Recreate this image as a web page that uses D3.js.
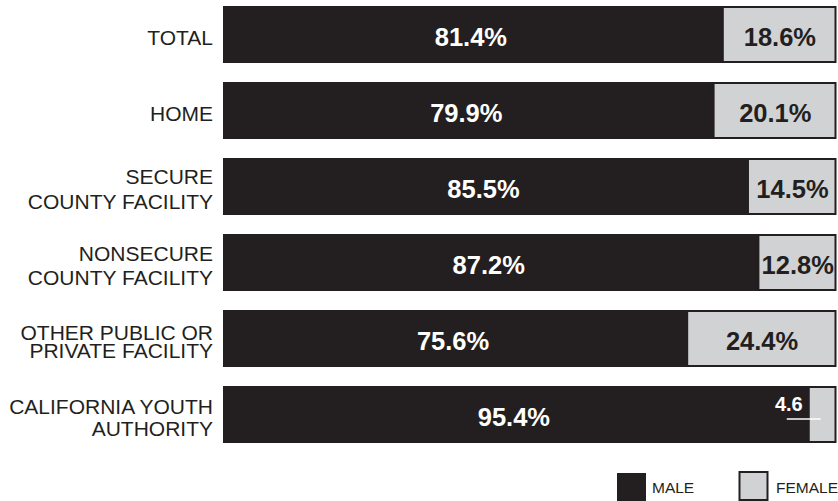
<!DOCTYPE html>
<html><head><meta charset="utf-8">
<script src="https://cdn.jsdelivr.net/npm/d3@7"></script>
<style>body{margin:0;background:#fff}svg{display:block}text{font-family:"Liberation Sans",Arial,sans-serif}</style>
</head><body><svg id="c" width="838" height="501"></svg>
<script>
const categories = [["TOTAL"],["HOME"],["SECURE","COUNTY FACILITY"],["NONSECURE","COUNTY FACILITY"],["OTHER PUBLIC OR","PRIVATE FACILITY"],["CALIFORNIA YOUTH","AUTHORITY"]];
const male = [81.4, 79.9, 85.5, 87.2, 75.6, 95.4];
const female = [18.6, 20.1, 14.5, 12.8, 24.4, 4.6];
const femaleLabels = ["18.6%","20.1%","14.5%","12.8%","24.4%","4.6"];
const legendLabels = ["MALE","FEMALE"];

const svg = d3.select("#c");
const dark = "#231f20", light = "#d1d2d4";
const lineHeights = [0, 0, 25, 24, 18, 22];
const x = d3.scaleLinear().domain([0,100]).range([223,837]);
const y = d3.scaleBand().domain(d3.range(categories.length)).range([6,443]).paddingInner(0.25).paddingOuter(0);

const g = svg.selectAll("g.row").data(categories).join("g").attr("class","row");
g.append("rect").attr("x",x(0)).attr("y",(d,i)=>y(i)).attr("width",(d,i)=>x(male[i])-x(0)).attr("height",y.bandwidth()).attr("fill",dark);
g.append("rect").attr("x",(d,i)=>x(male[i])).attr("y",(d,i)=>y(i)+1).attr("width",(d,i)=>x(100)-x(male[i])-1.5).attr("height",y.bandwidth()-2)
  .attr("fill",light).attr("stroke",dark).attr("stroke-width",2);

// category labels
g.each(function(d,i){
  const t = d3.select(this).append("text").attr("text-anchor","end").attr("font-size",21).attr("fill",dark);
  const cy = y(i)+y.bandwidth()/2;
  const lh = lineHeights[i];
  d.forEach((line,j)=>{
    t.append("tspan").attr("x",213).attr("y",cy + (j-(d.length-1)/2)*lh + 10).text(line);
  });
});

// male values
g.append("text").attr("x",(d,i)=>(x(0)+x(male[i]))/2 - 2).attr("y",(d,i)=>y(i)+y.bandwidth()/2+11)
  .attr("text-anchor","middle").attr("font-size",25.5).attr("font-weight","bold").attr("fill","#fff")
  .text((d,i)=>male[i].toFixed(1)+"%");

// female values
g.each(function(d,i){
  const sel = d3.select(this);
  const cy = y(i)+y.bandwidth()/2;
  if (female[i] < 8) {
    const xs = x(male[i]);
    sel.append("text").attr("x",xs-6).attr("y",cy-3.5).attr("text-anchor","end")
      .attr("font-size",20).attr("font-weight","bold").attr("fill","#fff").text(femaleLabels[i]);
    sel.append("line").attr("x1",xs-22).attr("x2",xs+12).attr("y1",cy+4.5).attr("y2",cy+4.5)
      .attr("stroke","#fff").attr("stroke-width",1.3);
  } else {
    sel.append("text").attr("x",(x(male[i])+x(100))/2).attr("y",cy+11)
      .attr("text-anchor","middle").attr("font-size",25.5).attr("font-weight","bold").attr("fill",dark).text(femaleLabels[i]);
  }
});

// legend
const lg = svg.append("g");
lg.append("rect").attr("x",617).attr("y",473).attr("width",29).attr("height",28).attr("fill",dark);
lg.append("text").attr("x",652).attr("y",492.5).attr("font-size",15.5).attr("fill",dark).text(legendLabels[0]);
lg.append("rect").attr("x",739.5).attr("y",472).attr("width",28).attr("height",28).attr("fill",light).attr("stroke",dark).attr("stroke-width",2);
lg.append("text").attr("x",776).attr("y",492.5).attr("font-size",15.5).attr("fill",dark).text(legendLabels[1]);
</script></body></html>
